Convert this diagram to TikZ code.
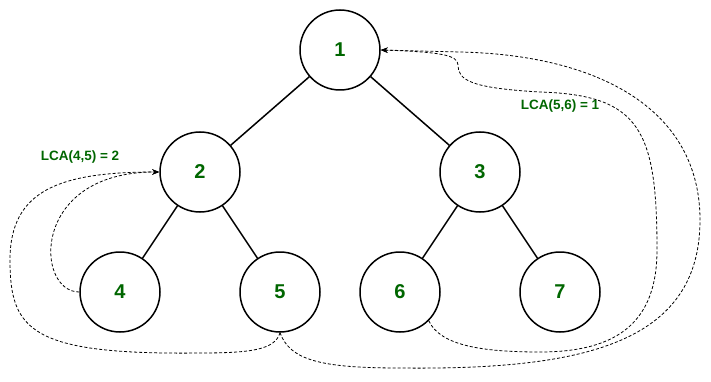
\documentclass[tikz,border=0pt]{standalone}
\usepackage{fontspec}
\setmainfont{Liberation Sans}
\usetikzlibrary{arrows.meta}
\definecolor{lcagreen}{RGB}{0,102,0}
\begin{document}
\begin{tikzpicture}[>={Stealth[length=7pt, width=5.5pt]}, x=1pt, y=-1pt,
        vertice/.style={circle, draw, line width=1.5pt, minimum size=80pt, inner sep=0pt,
            text=lcagreen, font=\fontsize{20}{24}\selectfont\bfseries},
        etichetta/.style={text=lcagreen, font=\fontsize{13.5}{16}\selectfont\bfseries},
        percorso/.style={->, line width=0.8pt, dash pattern=on 3pt off 2pt}]
    \useasboundingbox (0, 0) rectangle (711, 382);

    % Nodi dell'albero
    \node[vertice] (v1) at (340, 50) {1};
    \node[vertice] (v2) at (200, 172) {2};
    \node[vertice] (v3) at (480, 172) {3};
    \node[vertice] (v4) at (120, 292) {4};
    \node[vertice] (v5) at (280, 292) {5};
    \node[vertice] (v6) at (400, 292) {6};
    \node[vertice] (v7) at (560, 292) {7};

    % Archi
    \draw[line width=1.5pt] (v1) -- (v2);
    \draw[line width=1.5pt] (v1) -- (v3);
    \draw[line width=1.5pt] (v2) -- (v4);
    \draw[line width=1.5pt] (v2) -- (v5);
    \draw[line width=1.5pt] (v3) -- (v6);
    \draw[line width=1.5pt] (v3) -- (v7);

    % Etichette LCA
    \node[etichetta] (lca45) at (80, 157) {LCA(4,5) = 2};
    \node[etichetta] (lca56) at (560, 106) {LCA(5,6) = 1};

    % Percorsi 4 -> 2 e 5 -> 2
    \draw[percorso] (v4.west) .. controls (35, 292) and (30, 172) .. (v2.west);
    \draw[percorso] (v5.south) .. controls (275, 350) and (250, 353) .. (200, 353)
        .. controls (30, 355) and (10, 330) .. (10, 260)
        .. controls (10, 190) and (60, 172) .. (v2.west);

    % Percorsi 6 -> 1 e 5 -> 1
    \draw[percorso] (v6.south east) .. controls (440, 345) and (480, 352) .. (540, 352)
        .. controls (620, 352) and (657, 320) .. (657, 250)
        .. controls (657, 130) and (640, 95) .. (540, 92)
        .. controls (470, 88) and (458, 80) .. (458, 65)
        .. controls (458, 55) and (440, 52) .. (v1.east);
    \draw[percorso] (v5.south) .. controls (290, 360) and (320, 368) .. (400, 368)
        .. controls (580, 370) and (700, 345) .. (700, 220)
        .. controls (700, 110) and (600, 55) .. (460, 52)
        .. controls (420, 51) .. (v1.east);
\end{tikzpicture}
\end{document}
